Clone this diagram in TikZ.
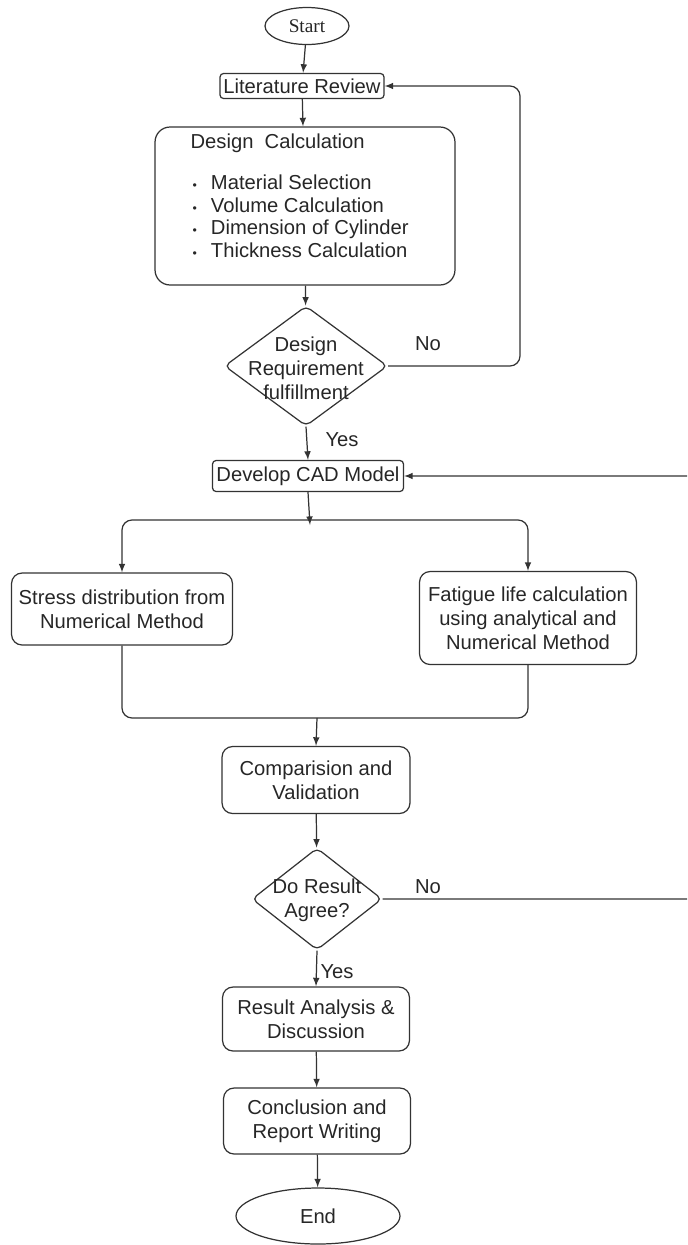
\documentclass[tikz,border=0pt]{standalone}
\usepackage{fontspec}
\setmainfont{Liberation Sans}
\newfontfamily\startfont{Liberation Serif}
\usetikzlibrary{arrows}
\usetikzlibrary{shapes.geometric}
\tikzstyle{flow}=[x=0.02cm, y=-0.02cm, line width=0.7pt, draw=black!80, font=\fontsize{11.5}{13.6}\selectfont, text=black!85]
\tikzstyle{term}=[ellipse, draw, inner sep=0pt]
\tikzstyle{proc}=[rectangle, draw, rounded corners=2pt, inner sep=1pt, align=center]
\tikzstyle{rproc}=[rectangle, draw, rounded corners=6pt, inner sep=1pt, align=center]
\tikzstyle{dec}=[diamond, draw, inner sep=0pt, rounded corners=3pt]
\tikzstyle{lbl}=[inner sep=0pt]
\tikzstyle{edge}=[->, -latex]
\tikzstyle{elbow}=[rounded corners=0.2cm]
\begin{document}
\begin{tikzpicture}[flow]
	\useasboundingbox (0,0) rectangle (687,1245);
	\clip (0,0) rectangle (687,1245);
	%%
	\draw (307,26) node[term, minimum width=1.68cm, minimum height=0.74cm, font=\startfont\fontsize{11}{13}\selectfont] (start) {Start};
	\draw (302,86) node[proc, minimum width=3.28cm, minimum height=0.5cm] (lit) {Literature Review};
	%%
	\draw (305,206) node[rproc, rounded corners=0.3cm, minimum width=6cm, minimum height=3.16cm] (calc) {};
	\node[lbl, anchor=west] (calctitle) at (190,143) {Design\ \ Calculation};
	\node[lbl, anchor=north west, align=left, font=\fontsize{11.5}{13}\selectfont] (calclist) at (192,174)
		{{\scriptsize\textbullet}\hspace{8pt}Material Selection\\
		 {\scriptsize\textbullet}\hspace{8pt}Volume Calculation\\
		 {\scriptsize\textbullet}\hspace{8pt}Dimension of Cylinder\\
		 {\scriptsize\textbullet}\hspace{8pt}Thickness Calculation};
	%%
	\draw (306,366) node[dec, minimum width=3.26cm, minimum height=2.4cm] (req) {};
	\node[lbl, align=center] (reqtext) at (306,368) {Design\\Requirement\\fulfillment};
	\draw (308,476) node[proc, minimum width=3.82cm, minimum height=0.62cm] (cad) {Develop CAD Model};
	%%
	\draw (122,609) node[rproc, minimum width=4.42cm, minimum height=1.44cm] (stress) {Stress distribution from\\Numerical Method};
	\draw (528,618) node[rproc, minimum width=4.34cm, minimum height=1.86cm] (fatigue) {Fatigue life calculation\\using analytical and\\Numerical Method};
	%%
	\draw (316,780) node[rproc, minimum width=3.76cm, minimum height=1.34cm] (comp) {Comparision and\\Validation};
	\draw (317,899) node[dec, minimum width=2.6cm, minimum height=2.04cm] (agree) {};
	\node[lbl, align=center] (agreetext) at (317,900) {Do Result\\Agree?};
	\draw (316,1019) node[rproc, minimum width=3.74cm, minimum height=1.28cm] (result) {Result Analysis \&\\Discussion};
	\draw (317,1121) node[rproc, minimum width=3.74cm, minimum height=1.32cm] (concl) {Conclusion and\\Report Writing};
	\draw (318,1216) node[term, minimum width=3.28cm, minimum height=1.12cm] (end) {End};
	%%%%%%
	\coordinate (split) at (310,520);
	\coordinate (join) at (317,718);
	\coordinate (loopa) at (520,366);
	\coordinate (loopb) at (700,899);
	%%%%%%
	\draw[edge] (start) -- (lit);
	\draw[edge] (lit) -- (calc);
	\draw[edge] (calc) -- (req);
	\draw[edge, elbow] (req.east) -- (loopa) |- (lit.east);
	\node[lbl] (no1) at (428,344) {No};
	\draw[edge] (req.south) -- (cad.north);
	\node[lbl] (yes1) at (342,440) {Yes};
	%%
	\draw[edge] (cad.south) -- ([yshift=-0.1cm]split);
	\draw[edge, elbow] (split) -| (stress.north);
	\draw[edge, elbow] (split) -| (fatigue.north);
	\draw[elbow] (stress.south) |- (join);
	\draw[elbow] (fatigue.south) |- (join);
	\draw[edge] (join) -- (comp.north);
	%%
	\draw[edge] (comp) -- (agree);
	\draw[edge, elbow] (agree.east) -- (loopb) |- (cad.east);
	\node[lbl] (no2) at (428,887) {No};
	\draw[edge] (agree.south) -- (result.north);
	\node[lbl] (yes2) at (337,972) {Yes};
	\draw[edge] (result) -- (concl);
	\draw[edge] (concl) -- (end);
\end{tikzpicture}
\end{document}
